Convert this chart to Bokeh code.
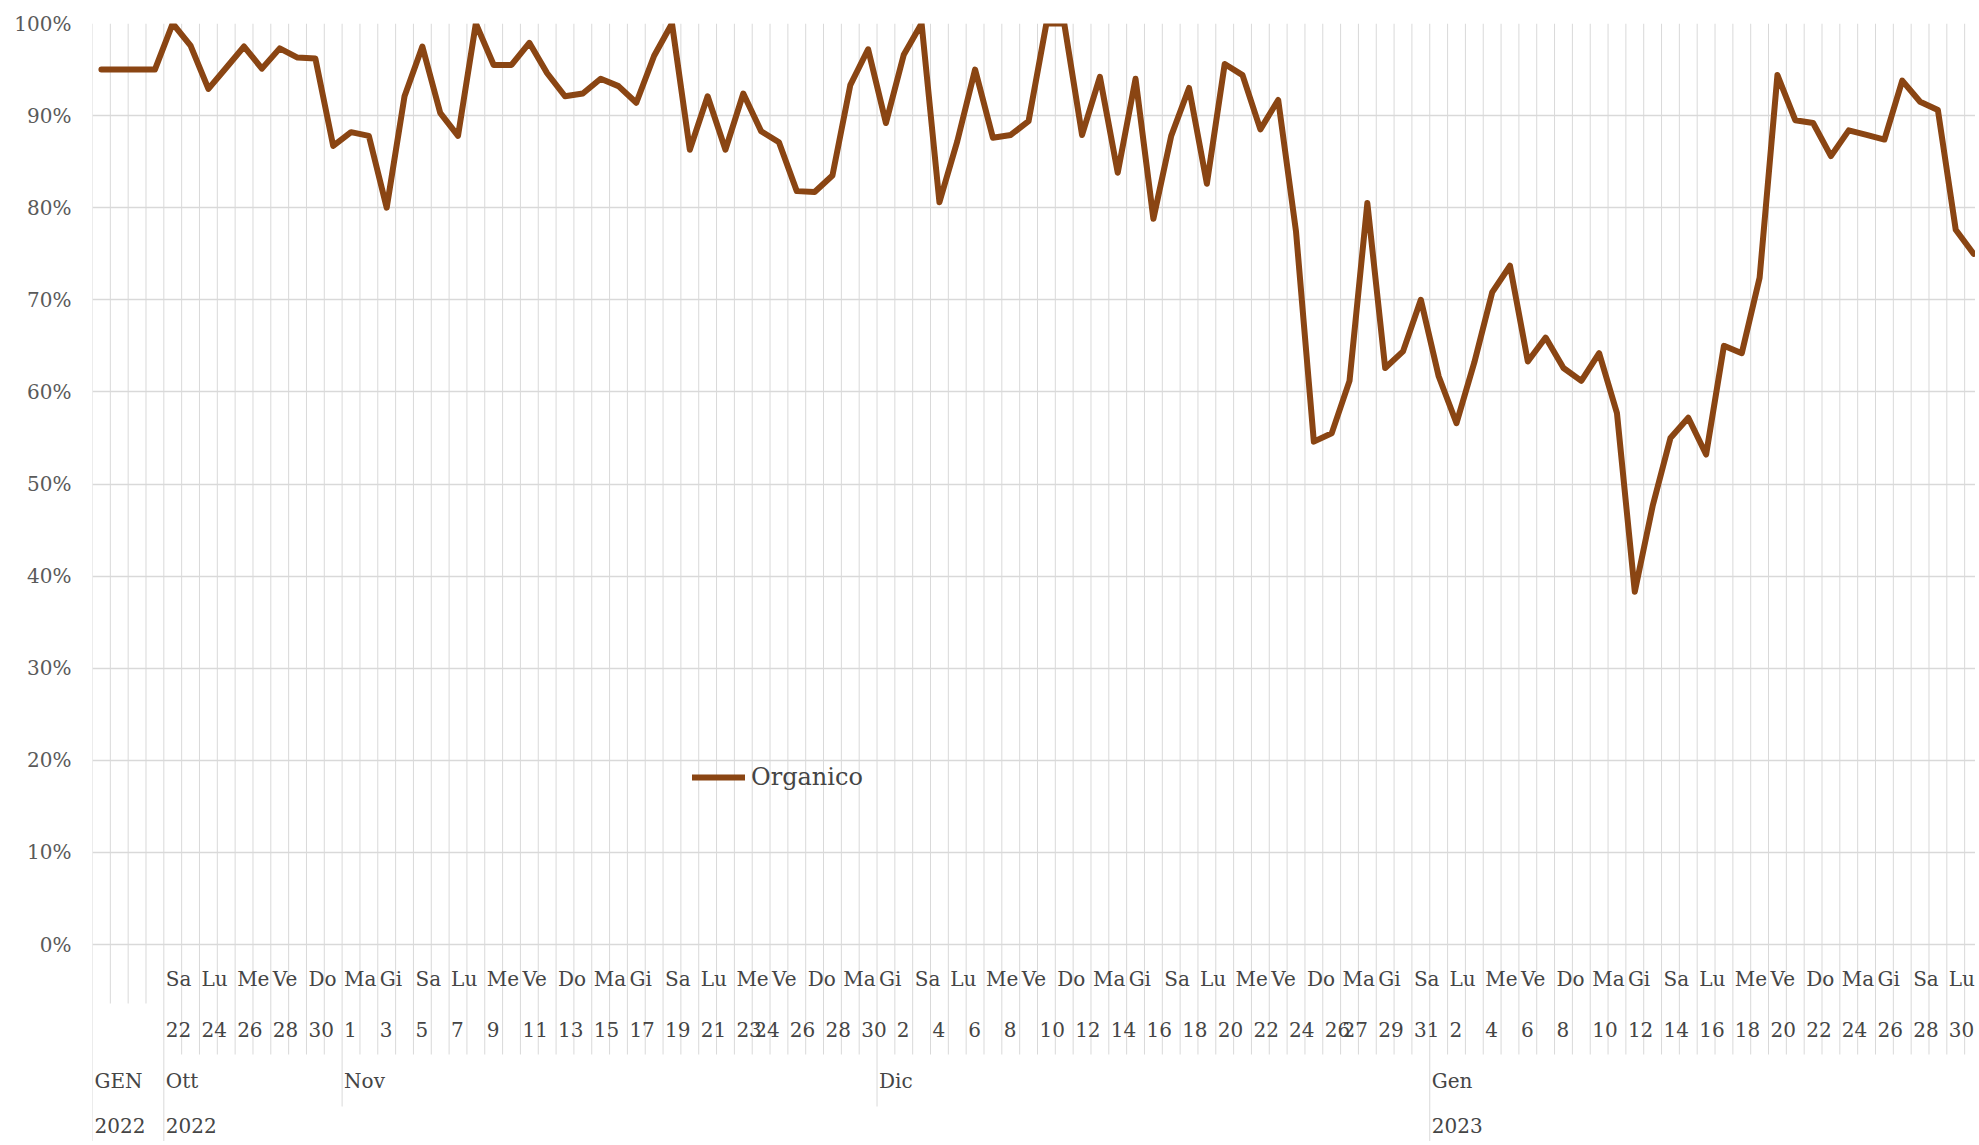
import pandas as pd
from bokeh.plotting import figure
from bokeh.models import (Range1d, FixedTicker, NumeralTickFormatter,
                          ColumnDataSource, Legend, LegendItem)
from bokeh.core.properties import value
from bokeh.embed import file_html
from bokeh.resources import INLINE

# ---------------- data ----------------
series_name = "Organico"

# first group on the axis ("GEN 2022"): four points without day labels
gen_values = [95.0, 95.0, 95.0, 95.0]
gen_month_label = "GEN"
gen_year_label = "2022"

# daily values (%), 22 Oct 2022 .. 31 Jan 2023
oct_values = [100.0, 97.6, 92.9, 95.2, 97.5, 95.1, 97.3, 96.3, 96.2, 86.7]
nov_values = [88.2, 87.8, 80.0, 92.1, 97.5, 90.3, 87.8, 100.0, 95.5, 95.5,
              97.9, 94.6, 92.1, 92.4, 94.0, 93.2, 91.4, 96.5, 100.0, 86.3,
              92.1, 86.3, 92.4, 88.3, 87.1, 81.8, 81.7, 83.5, 93.3, 97.2]
dec_values = [89.2, 96.6, 100.0, 80.6, 87.2, 95.0, 87.6, 87.9, 89.4, 100.0,
              100.0, 87.9, 94.2, 83.8, 94.0, 78.8, 87.8, 93.0, 82.6, 95.6,
              94.4, 88.5, 91.7, 77.4, 54.6, 55.5, 61.2, 80.5, 62.6, 64.4,
              70.0]
jan_values = [61.7, 56.6, 63.2, 70.8, 73.7, 63.3, 65.9, 62.6, 61.2, 64.2,
              57.7, 38.3, 47.6, 55.0, 57.2, 53.2, 65.0, 64.2, 72.4, 94.4,
              89.5, 89.2, 85.6, 88.4, 87.9, 87.4, 93.8, 91.5, 90.6, 77.6,
              75.0]

day_dates = pd.date_range("2022-10-22", "2023-01-31", freq="D")
weekday_names = ["Lu", "Ma", "Me", "Gi", "Ve", "Sa", "Do"]
month_names = {10: "Ott", 11: "Nov", 12: "Dic", 1: "Gen"}

y_ticks = [0.0, 0.1, 0.2, 0.3, 0.4, 0.5, 0.6, 0.7, 0.8, 0.9, 1.0]

# ---------------- derived category table ----------------
n_gen = len(gen_values)
values = gen_values + oct_values + nov_values + dec_values + jan_values
N = len(values)
assert N == n_gen + len(day_dates)

weekday_row = [""] * n_gen + [weekday_names[d.dayofweek] for d in day_dates]
daynum_row = [""] * n_gen + [str(d.day) for d in day_dates]
month_row = [gen_month_label] * n_gen + [month_names[d.month] for d in day_dates]
top_group = ["GEN"] * n_gen + [str(d.year) for d in day_dates]
year_row = [gen_year_label] * n_gen + [str(d.year) for d in day_dates]

# which labels were shown on the two inner rows
weekday_shown = list(range(0, N, 2))
daynum_shown = list(range(4, 37, 2)) + list(range(37, 70, 2)) + list(range(70, N, 2))

# ---------------- layout ----------------
FIG_W, FIG_H = 1975, 1141
LEFT, TOP = 92, 23
PX_100 = 921.0                      # pixels from 0% to 100%
BAND = 17.83                        # pixels per category
frame_w = FIG_W - LEFT
frame_h = FIG_H - TOP
y_bottom = 1.0 - frame_h / PX_100


def below(px):
    return -px / PX_100


row_y = [below(34), below(85), below(136), below(181)]
depth_week, depth_day, depth_month, depth_year = below(59), below(110), below(162), y_bottom

p = figure(width=FIG_W, height=FIG_H, output_backend="svg", toolbar_location=None,
           x_range=Range1d(0, frame_w / BAND), y_range=Range1d(y_bottom, 1.0),
           x_axis_location=None, min_border_left=LEFT, min_border_top=TOP,
           min_border_right=0, min_border_bottom=0, tools="")
p.outline_line_color = None
p.background_fill_color = "white"

# y axis
p.yaxis.ticker = FixedTicker(ticks=y_ticks)
p.yaxis.formatter = NumeralTickFormatter(format="0%")
p.yaxis.axis_line_color = None
p.yaxis.major_tick_line_color = None
p.yaxis.minor_tick_line_color = None
p.yaxis.major_tick_out = 0
p.yaxis.major_label_standoff = 21
p.yaxis.major_label_text_font = "DejaVu Serif"
p.yaxis.major_label_text_font_size = "20px"
p.yaxis.major_label_text_color = "#5a5a5a"

p.ygrid.ticker = FixedTicker(ticks=y_ticks)
p.ygrid.grid_line_color = "#D9D9D9"
p.ygrid.grid_line_width = 1.6
for g in p.xgrid:
    g.visible = False

# category boundaries: gridlines + multi-level axis separators
bx, by1 = [], []
for b in range(N + 1):
    if b == 0 or b == N or top_group[b] != top_group[b - 1]:
        d = depth_year
    elif month_row[b] != month_row[b - 1]:
        d = depth_month
    elif daynum_row[b] != daynum_row[b - 1]:
        d = depth_day
    else:
        d = depth_week
    bx.append(b)
    by1.append(d)
p.segment(x0=bx, y0=[1.0] * len(bx), x1=bx, y1=by1,
          line_color="#D9D9D9", line_width=1)

# axis labels
lx, ly, lt = [], [], []
for i in weekday_shown:
    if weekday_row[i]:
        lx.append(i); ly.append(row_y[0]); lt.append(weekday_row[i])
for i in daynum_shown:
    if daynum_row[i]:
        lx.append(i); ly.append(row_y[1]); lt.append(daynum_row[i])
for i in range(N):
    if i == 0 or month_row[i] != month_row[i - 1] or top_group[i] != top_group[i - 1]:
        lx.append(i); ly.append(row_y[2]); lt.append(month_row[i])
    if i == 0 or top_group[i] != top_group[i - 1]:
        lx.append(i); ly.append(row_y[3]); lt.append(year_row[i])
lab_src = ColumnDataSource(dict(x=lx, y=ly, text=lt))
p.text(x="x", y="y", text="text", source=lab_src, x_offset=2,
       text_font=value("DejaVu Serif"), text_font_size="20px",
       text_color="#454545", text_baseline="middle", text_align="left")

# series
src = ColumnDataSource(dict(x=[i + 0.5 for i in range(N)], y=[v / 100 for v in values]))
r = p.line(x="x", y="y", source=src, line_color="#8A4513", line_width=6,
           line_join="round", line_cap="round")

legend = Legend(items=[LegendItem(label=series_name, renderers=[r])],
                location=(600, 350), orientation="horizontal",
                glyph_width=53, glyph_height=28, label_standoff=6,
                padding=0, margin=0, spacing=0,
                border_line_color=None, background_fill_alpha=0,
                label_text_font="DejaVu Serif", label_text_font_size="24px",
                label_text_color="#454545")
p.add_layout(legend)

open("out.html", "w").write(file_html(p, INLINE))
